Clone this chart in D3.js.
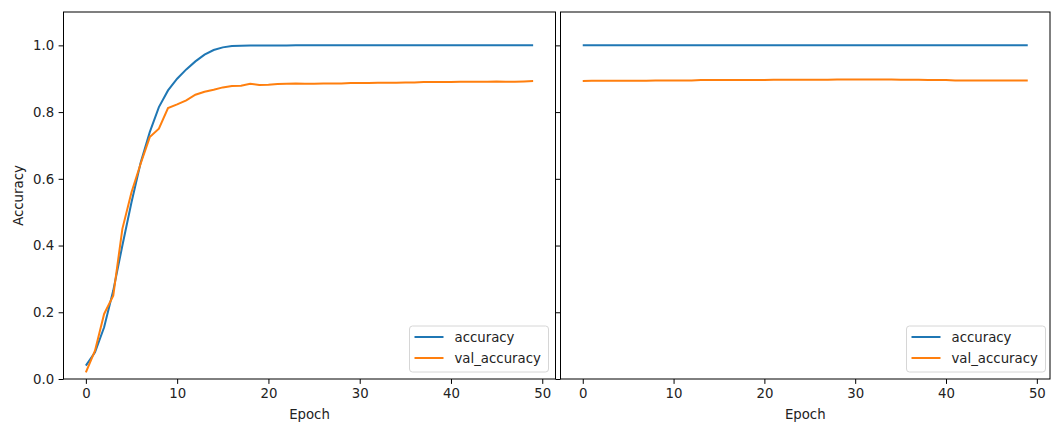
<!DOCTYPE html>
<html>
<head>
<meta charset="utf-8">
<script src="https://cdn.jsdelivr.net/npm/d3@7"></script>
<style>
body { margin: 0; background: #fff; }
text { font-family: "DejaVu Sans", sans-serif; font-size: 13.3px; fill: #222; }
.legende { font-size: 13.3px; }
</style>
</head>
<body>
<script>
var w = 1051, h = 424;

// epochs 0..49
var epochs = d3.range(0, 50);

// left panel : first training run
var accLeft = [0.040,0.080,0.155,0.265,0.400,0.530,0.648,0.740,0.815,0.865,
	0.900,0.928,0.952,0.972,0.986,0.994,0.998,0.999,0.9995,0.9997,
	0.9998,0.9999,0.9999,1.0,1.0,1.0,1.0,1.0,1.0,1.0,
	1.0,1.0,1.0,1.0,1.0,1.0,1.0,1.0,1.0,1.0,
	1.0,1.0,1.0,1.0,1.0,1.0,1.0,1.0,1.0,1.0];
var valLeft = [0.020,0.085,0.195,0.250,0.450,0.560,0.645,0.725,0.750,0.812,
	0.823,0.835,0.852,0.861,0.867,0.874,0.878,0.879,0.885,0.881,
	0.882,0.884,0.885,0.886,0.885,0.885,0.886,0.886,0.886,0.887,
	0.887,0.887,0.888,0.888,0.888,0.889,0.889,0.890,0.890,0.890,
	0.890,0.891,0.891,0.891,0.891,0.892,0.891,0.891,0.892,0.893];

// right panel : second run, already converged
var accRight = [1.0,1.0,1.0,1.0,1.0,1.0,1.0,1.0,1.0,1.0,
	1.0,1.0,1.0,1.0,1.0,1.0,1.0,1.0,1.0,1.0,
	1.0,1.0,1.0,1.0,1.0,1.0,1.0,1.0,1.0,1.0,
	1.0,1.0,1.0,1.0,1.0,1.0,1.0,1.0,1.0,1.0,
	1.0,1.0,1.0,1.0,1.0,1.0,1.0,1.0,1.0,1.0];
var valRight = [0.893,0.894,0.894,0.894,0.894,0.894,0.894,0.894,0.895,0.895,
	0.895,0.895,0.895,0.896,0.896,0.896,0.896,0.896,0.896,0.896,
	0.896,0.897,0.897,0.897,0.897,0.897,0.897,0.897,0.898,0.898,
	0.898,0.898,0.898,0.898,0.898,0.897,0.897,0.897,0.896,0.896,
	0.896,0.895,0.895,0.895,0.895,0.895,0.895,0.895,0.895,0.895];

var xTicks = [0, 10, 20, 30, 40, 50];
var yTicks = [0.0, 0.2, 0.4, 0.6, 0.8, 1.0];
var seriesNames = ["accuracy", "val_accuracy"];
var colors = ["#1f77b4", "#ff7f0e"];

var svg = d3.select("body").append("svg")
	.attr("width", w)
	.attr("height", h);

function panel(left, right, acc, val, showYLabels, legX) {
	var top = 12, bottom = 379;
	var x = d3.scaleLinear().domain([-2.45, 51.45]).range([left, right]);
	var y = d3.scaleLinear().domain([0, 1.1]).range([bottom, top]);

	var g = svg.append("g");

	var line = d3.line()
		.x(function(d, i) { return x(epochs[i]); })
		.y(function(d) { return y(d); });

	g.append("path").datum(acc)
		.attr("d", line)
		.style("fill", "none")
		.style("stroke", colors[0])
		.style("stroke-width", 2);
	g.append("path").datum(val)
		.attr("d", line)
		.style("fill", "none")
		.style("stroke", colors[1])
		.style("stroke-width", 2);

	// axes
	var xAxis = d3.axisBottom(x).tickValues(xTicks).tickSize(4.9).tickPadding(4.5)
		.tickFormat(d3.format("d"));
	var yAxis = d3.axisLeft(y).tickValues(yTicks).tickSize(4.9).tickPadding(4.5)
		.tickFormat(showYLabels ? d3.format(".1f") : "");

	var gx = g.append("g").attr("transform", "translate(0," + bottom + ")").call(xAxis);
	var gy = g.append("g").attr("transform", "translate(" + left + ",0)").call(yAxis);
	[gx, gy].forEach(function(a) {
		a.select(".domain").remove();
		a.selectAll(".tick line").style("stroke", "#000").style("stroke-width", 1);
		a.selectAll(".tick text").style("font-size", "13.3px")
			.style("font-family", "DejaVu Sans, sans-serif").style("fill", "#222");
	});

	// frame
	g.append("rect")
		.attr("x", left).attr("y", top)
		.attr("width", right - left).attr("height", bottom - top)
		.style("fill", "none")
		.style("stroke", "#000")
		.style("stroke-width", 1);

	g.append("text")
		.attr("x", (left + right) / 2).attr("y", 419)
		.attr("text-anchor", "middle")
		.text("Epoch");

	if (showYLabels) {
		g.append("text")
			.attr("transform", "translate(23," + ((top + bottom) / 2) + ") rotate(-90)")
			.attr("text-anchor", "middle")
			.text("Accuracy");
	}

	// legend
	var leg = g.append("g").attr("transform", "translate(" + legX + ",326)");
	leg.append("rect")
		.attr("width", 139).attr("height", 46)
		.attr("rx", 3)
		.style("fill", "#fff").style("fill-opacity", 0.8)
		.style("stroke", "#d6d6d6").style("stroke-width", 1);
	seriesNames.forEach(function(name, i) {
		leg.append("line")
			.attr("x1", 5).attr("x2", 34)
			.attr("y1", 11 + i * 21).attr("y2", 11 + i * 21)
			.style("stroke", colors[i]).style("stroke-width", 2);
		leg.append("text")
			.attr("class", "legende")
			.attr("x", 45).attr("y", 16 + i * 21)
			.text(name);
	});
}

panel(63.5, 555.5, accLeft, valLeft, true, 409.5);
panel(560.5, 1050, accRight, valRight, false, 906.5);
</script>
</body>
</html>
